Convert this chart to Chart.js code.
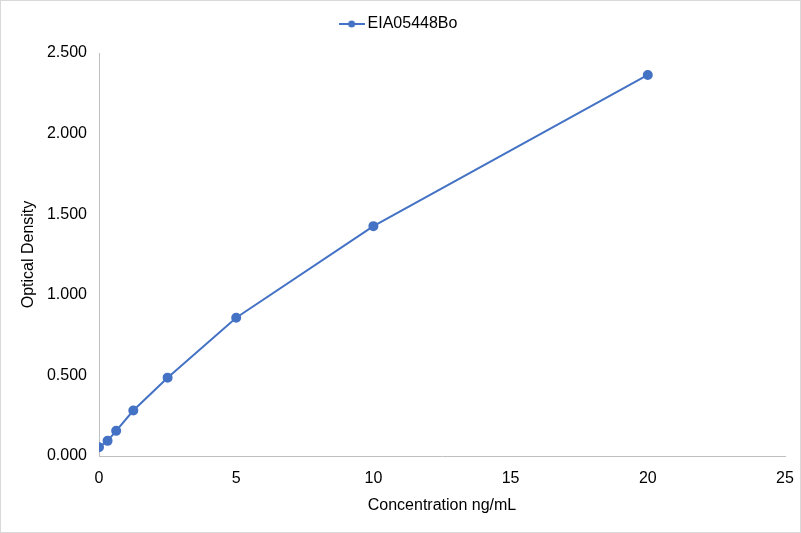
<!DOCTYPE html>
<html>
<head>
<meta charset="utf-8">
<script src="https://cdn.jsdelivr.net/npm/chart.js@4"></script>
<style>
  html,body{margin:0;padding:0;background:#fff;}
  #wrap{position:relative;width:799px;height:531px;border:1px solid #d9d9d9;}
</style>
</head>
<body>
<div id="wrap"><canvas id="c"></canvas></div>
<script>
'use strict';

/* Standardkurve: Konzentration (ng/mL) gegen OD */
const conc = [0, 0.3125, 0.625, 1.25, 2.5, 5, 10, 20];
const od   = [0.054, 0.094, 0.156, 0.282, 0.486, 0.858, 1.426, 2.364];
const seriesName = 'EIA05448Bo';
const xTicks = [0, 5, 10, 15, 20, 25];
const yTicks = [0, 0.5, 1, 1.5, 2, 2.5];

const blue = '#4472c4', axis = '#bfbfbf', txt = '#000000';
const font = { family:'"Liberation Sans", Arial, sans-serif', size:16 };

// Legendensymbol: Linie mit Punkt, wie in Excel
function legendMarker(){
  const c=document.createElement('canvas'); c.width=26; c.height=10;
  const g=c.getContext('2d');
  g.strokeStyle=blue; g.lineWidth=2;
  g.beginPath(); g.moveTo(0,5); g.lineTo(26,5); g.stroke();
  g.fillStyle=blue; g.beginPath(); g.arc(13,5,3.5,0,Math.PI*2); g.fill();
  return c;
}

// etwas mehr Luft unter der Legende
const legendGap = { id:'legendGap', beforeInit(chart){
  const fit = chart.legend.fit;
  chart.legend.fit = function(){ fit.bind(chart.legend)(); this.height += 11; };
}};

new Chart(document.getElementById('c'), {
  type:'scatter',
  data:{ datasets:[{
    label:seriesName,
    data:conc.map((x,i)=>({x, y:od[i]})),
    showLine:true, borderColor:blue, backgroundColor:blue,
    borderWidth:2, pointRadius:4, pointHoverRadius:4, tension:0
  }]},
  options:{
    responsive:true, maintainAspectRatio:false, animation:false,
    layout:{ padding:{ left:15, right:15, top:1, bottom:13 } },
    plugins:{
      legend:{ position:'top', labels:{ color:txt, font, usePointStyle:true, padding:14,
        generateLabels:ch=>[{ text:seriesName, pointStyle:legendMarker(), fontColor:txt,
          strokeStyle:blue, fillStyle:blue, lineWidth:0, datasetIndex:0, hidden:false }] } },
      tooltip:{ enabled:false }
    },
    scales:{
      x:{ type:'linear', min:0, max:25,
        afterBuildTicks:a=>{ a.ticks = xTicks.map(v=>({value:v})); },
        afterFit:s=>{ s.height = 63; s.paddingLeft = 0; s.paddingRight = 0; },
        grid:{ display:false, drawTicks:false },
        border:{ color:axis },
        ticks:{ color:txt, font, padding:13 },
        title:{ display:true, text:'Concentration ng/mL', color:txt, font, padding:{top:1} } },
      y:{ type:'linear', min:0, max:2.5,
        afterBuildTicks:a=>{ a.ticks = yTicks.map(v=>({value:v})); },
        afterFit:s=>{ s.width = 83; s.paddingTop = 0; s.paddingBottom = 0; },
        grid:{ display:false, drawTicks:false },
        border:{ color:axis },
        ticks:{ color:txt, font, padding:12, callback:v=>v.toFixed(3) },
        title:{ display:true, text:'Optical Density', color:txt, font, padding:{top:3} } }
    }
  },
  plugins:[legendGap]
});
</script>
</body>
</html>
